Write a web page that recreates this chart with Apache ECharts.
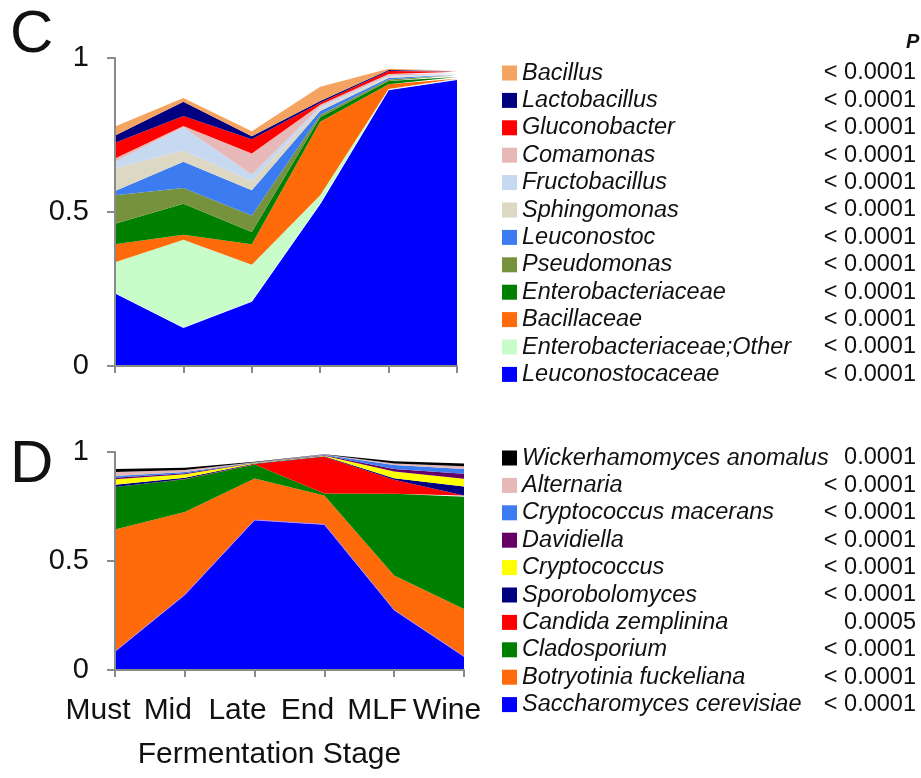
<!DOCTYPE html>
<html>
<head>
<meta charset="utf-8">
<script src="https://cdn.jsdelivr.net/npm/echarts@6/dist/echarts.min.js"></script>
<style>
  html, body { margin: 0; padding: 0; background: #fff; }
  #chart { width: 921px; height: 778px; }
</style>
</head>
<body>
<div id="chart"></div>
<script>
// Fermentation stages (x axis)
const stages = ['Must', 'Mid', 'Late', 'End', 'MLF', 'Wine'];

// Panel C: bacterial relative abundance, listed bottom-to-top of the stack
const leuconostocaceae   = [0.237, 0.125, 0.210, 0.527, 0.897, 0.930];
const enterobactOther    = [0.100, 0.285, 0.119, 0.027, 0.002, 0.001];
const bacillaceae        = [0.058, 0.016, 0.066, 0.239, 0.016, 0.002];
const enterobacteriaceae = [0.067, 0.101, 0.040, 0.015, 0.010, 0.005];
const pseudomonas        = [0.092, 0.051, 0.054, 0.007, 0.005, 0.006];
const leuconostoc        = [0.014, 0.085, 0.082, 0.013, 0.005, 0.002];
const sphingomonas       = [0.074, 0.037, 0.029, 0.007, 0.003, 0.001];
const fructobacillus     = [0.021, 0.075, 0.022, 0.007, 0.004, 0.001];
const comamonas          = [0.011, 0.004, 0.068, 0.006, 0.006, 0.002];
const gluconobacter      = [0.051, 0.033, 0.046, 0.007, 0.010, 0.005];
const lactobacillus      = [0.023, 0.046, 0.010, 0.005, 0.003, 0.002];
const bacillus           = [0.030, 0.012, 0.016, 0.047, 0.004, 0.002];

// Panel D: fungal relative abundance, bottom-to-top of the stack
const saccharomyces   = [0.085, 0.345, 0.688, 0.668, 0.275, 0.062];
const botryotinia     = [0.560, 0.380, 0.190, 0.132, 0.158, 0.218];
const cladosporium    = [0.195, 0.150, 0.065, 0.010, 0.375, 0.515];
const candida         = [0.000, 0.001, 0.002, 0.168, 0.065, 0.005];
const sporobolomyces  = [0.010, 0.006, 0.002, 0.002, 0.007, 0.042];
const cryptococcus    = [0.025, 0.016, 0.003, 0.003, 0.030, 0.035];
const davidiella      = [0.007, 0.005, 0.001, 0.002, 0.012, 0.023];
const cryptoMacerans  = [0.008, 0.005, 0.001, 0.002, 0.018, 0.022];
const alternaria      = [0.018, 0.009, 0.001, 0.001, 0.007, 0.013];
const wickerhamomyces = [0.014, 0.011, 0.002, 0.002, 0.011, 0.012];

// Y axis ticks
const yTicks = [0, 0.5, 1];

// Taxa: name, values, colour, P value (stack order bottom-to-top)
const bacteria = [
  ['Leuconostocaceae', leuconostocaceae, '#0000ff', '< 0.0001'],
  ['Enterobacteriaceae;Other', enterobactOther, '#c8fcc8', '< 0.0001'],
  ['Bacillaceae', bacillaceae, '#ff6a0a', '< 0.0001'],
  ['Enterobacteriaceae', enterobacteriaceae, '#008000', '< 0.0001'],
  ['Pseudomonas', pseudomonas, '#76923c', '< 0.0001'],
  ['Leuconostoc', leuconostoc, '#3d7cf0', '< 0.0001'],
  ['Sphingomonas', sphingomonas, '#ddd8c4', '< 0.0001'],
  ['Fructobacillus', fructobacillus, '#c6d9f1', '< 0.0001'],
  ['Comamonas', comamonas, '#e6b9b8', '< 0.0001'],
  ['Gluconobacter', gluconobacter, '#ff0000', '< 0.0001'],
  ['Lactobacillus', lactobacillus, '#000080', '< 0.0001'],
  ['Bacillus', bacillus, '#f4a460', '< 0.0001']
];
const fungi = [
  ['Saccharomyces cerevisiae', saccharomyces, '#0000ff', '< 0.0001'],
  ['Botryotinia fuckeliana', botryotinia, '#ff6a0a', '< 0.0001'],
  ['Cladosporium', cladosporium, '#008000', '< 0.0001'],
  ['Candida zemplinina', candida, '#ff0000', '0.0005'],
  ['Sporobolomyces', sporobolomyces, '#000080', '< 0.0001'],
  ['Cryptococcus', cryptococcus, '#ffff00', '< 0.0001'],
  ['Davidiella', davidiella, '#660066', '< 0.0001'],
  ['Cryptococcus macerans', cryptoMacerans, '#3d7cf0', '< 0.0001'],
  ['Alternaria', alternaria, '#e6b9b8', '< 0.0001'],
  ['Wickerhamomyces anomalus', wickerhamomyces, '#000000', '0.0001']
];

const FONT = '"Liberation Sans", Arial, sans-serif';
const AXIS_GREY = '#8a8a8a';
const pLookup = {};
bacteria.concat(fungi).forEach(t => { pLookup[t[0]] = t[3]; });

function areaSeries(list, stackId, axisIdx, edgeColor) {
  return list.map((t, i) => ({
    name: t[0],
    type: 'line',
    stack: stackId,
    xAxisIndex: axisIdx,
    yAxisIndex: axisIdx,
    data: t[1],
    symbol: 'none',
    silent: true,
    itemStyle: { color: t[2] },
    areaStyle: { color: t[2], opacity: 1 },
    lineStyle: i === 0 ? { width: 1, color: edgeColor } : { width: 0 },
    z: 2
  }));
}

function legendFor(list, top) {
  return {
    orient: 'vertical',
    left: 497,
    top: top,
    icon: 'rect',
    itemWidth: 15,
    itemHeight: 15,
    itemGap: 3.4,
    selectedMode: false,
    data: list.map(t => t[0]).reverse(),
    formatter: name => '{n|' + name + '}{p|' + pLookup[name] + '}',
    textStyle: {
      rich: {
        n: { fontFamily: FONT, fontStyle: 'italic', fontSize: 23.5, color: '#111', width: 297, lineHeight: 24 },
        p: { fontFamily: FONT, fontSize: 23.5, color: '#111', width: 97, align: 'right', lineHeight: 24 }
      }
    }
  };
}

function xAxisFor(idx, showLabels) {
  return {
    type: 'category',
    gridIndex: idx,
    data: stages,
    boundaryGap: false,
    axisLine: { lineStyle: { color: AXIS_GREY, width: 2 } },
    axisTick: { alignWithLabel: true, length: 7, lineStyle: { color: AXIS_GREY, width: 2 } },
    axisLabel: showLabels ? {
      interval: 0,
      hideOverlap: false,
      fontFamily: FONT, fontSize: 30, color: '#111', margin: 26,
      padding: [0, 34, 0, 0]
    } : { show: false },
    name: showLabels ? 'Fermentation Stage' : '',
    nameLocation: 'middle',
    nameGap: 70,
    nameTextStyle: { fontFamily: FONT, fontSize: 30, color: '#111', padding: [0, 40, 0, 0] },
    z: 5
  };
}

function yAxisFor(idx) {
  return {
    type: 'value',
    gridIndex: idx,
    min: yTicks[0],
    max: yTicks[yTicks.length - 1],
    interval: yTicks[1] - yTicks[0],
    splitLine: { show: false },
    axisLine: { show: true, lineStyle: { color: AXIS_GREY, width: 2 } },
    axisTick: { show: true, length: 8, lineStyle: { color: AXIS_GREY, width: 2 } },
    axisLabel: { fontFamily: FONT, fontSize: 29, color: '#111', margin: 26 },
    z: 5
  };
}

const chart = echarts.init(document.getElementById('chart'), null, { renderer: 'canvas' });
chart.setOption({
  animation: false,
  backgroundColor: '#fff',
  title: [
    { text: 'C', left: 5, top: 0, textStyle: { fontFamily: FONT, fontSize: 60, fontWeight: 'normal', color: '#111' } },
    { text: 'D', left: 5, top: 430, textStyle: { fontFamily: FONT, fontSize: 60, fontWeight: 'normal', color: '#111' } },
    { text: 'P', left: 901, top: 27, textStyle: { fontFamily: FONT, fontSize: 20, fontWeight: 'bold', fontStyle: 'italic', color: '#111' } }
  ],
  grid: [
    { left: 115, top: 58, width: 342, height: 308 },
    { left: 115, top: 452, width: 349, height: 218 }
  ],
  xAxis: [xAxisFor(0, false), xAxisFor(1, true)],
  yAxis: [yAxisFor(0), yAxisFor(1)],
  legend: [legendFor(bacteria, 56), legendFor(fungi, 441)],
  series: areaSeries(bacteria, 'bacteria', 0, '#e8f4ff').concat(areaSeries(fungi, 'fungi', 1, '#b88cf0'))
});
</script>
</body>
</html>
